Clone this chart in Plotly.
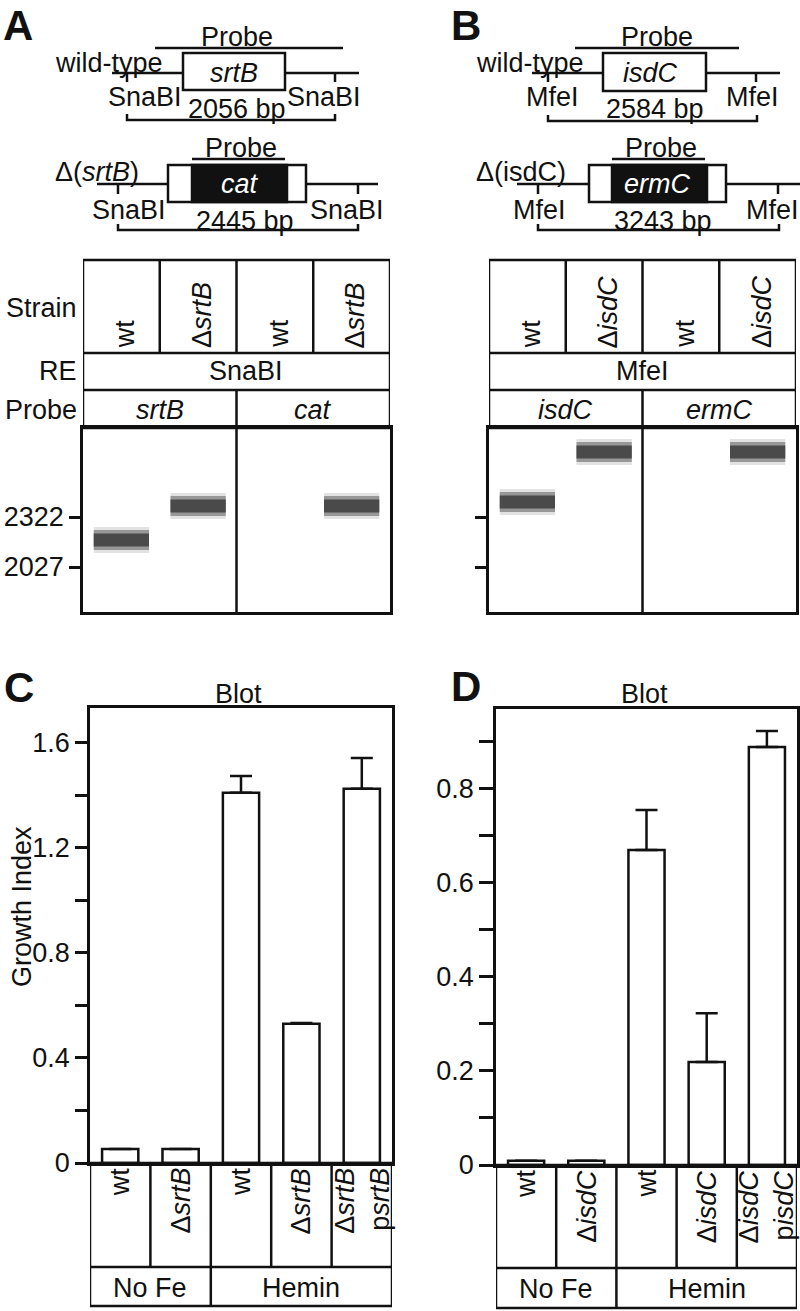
import plotly.graph_objects as go

W, H = 800, 1311
FONT = "Liberation Sans, Arial, sans-serif"
INK = "#111111"
LW = 2.5
FS = 27


def px(x):
    return x / W


def py(y):
    return 1 - y / H


# ---- Southern blots (band sizes in bp, read against the 2322 / 2027 markers) ----
marker_bp = [2027, 2322]
marker_labels = ["2027", "2322"]

blot_a_lanes = [0, 1, 3]
blot_a_bp = [2186, 2387, 2387]
blot_a_strains = ["wt", "Δ<i>srtB</i>", "wt", "Δ<i>srtB</i>"]
blot_a_enzyme = "SnaBI"
blot_a_probes = ["srtB", "cat"]

blot_b_lanes = [0, 1, 3]
blot_b_bp = [2410, 2706, 2706]
blot_b_strains = ["wt", "Δ<i>isdC</i>", "wt", "Δ<i>isdC</i>"]
blot_b_enzyme = "MfeI"
blot_b_probes = ["isdC", "ermC"]

# ---- growth index bars ----
strains_c = ["wt", "Δ<i>srtB</i>", "wt", "Δ<i>srtB</i>", "Δ<i>srtB</i><br>p<i>srtB</i>"]
growth_c = [0.053, 0.053, 1.410, 0.530, 1.425]
growth_err_c = [0, 0, 0.064, 0.003, 0.118]

strains_d = ["wt", "Δ<i>isdC</i>", "wt", "Δ<i>isdC</i>", "Δ<i>isdC</i><br>p<i>isdC</i>"]
growth_d = [0.009, 0.009, 0.670, 0.219, 0.889]
growth_err_d = [0, 0, 0.085, 0.104, 0.034]

conditions = ["No Fe", "Hemin"]
condition_counts = [2, 3]

fig = go.Figure()
shapes = []
notes = []


def line(x0, y0, x1, y1, xref="paper", yref="paper", w=LW):
    shapes.append(dict(type="line", x0=x0, y0=y0, x1=x1, y1=y1, xref=xref, yref=yref,
                       line=dict(color=INK, width=w)))


def pline(x0, y0, x1, y1):
    line(px(x0), py(y0), px(x1), py(y1))


def prect(x0, y0, x1, y1, fill="white"):
    shapes.append(dict(type="rect", xref="paper", yref="paper", x0=px(x0), x1=px(x1),
                       y0=py(y1), y1=py(y0), fillcolor=fill, line=dict(color=INK, width=LW)))


def text(x, y, s, size=FS, color=INK, xanchor="center", yanchor="middle", angle=0,
         xref="paper", yref="paper", align="center", bold=False):
    if bold:
        s = "<b>" + s + "</b>"
    notes.append(dict(x=x, y=y, xref=xref, yref=yref, text=s, showarrow=False,
                      xanchor=xanchor, yanchor=yanchor, textangle=angle, align=align,
                      font=dict(family=FONT, size=size, color=color)))


def ptext(x, y, s, **kw):
    text(px(x), py(y), s, **kw)


def bracket(x0, x1, y, top):
    shapes.append(dict(type="path", xref="paper", yref="paper",
                       path=f"M{px(x0)},{py(top)} L{px(x0)},{py(y)} L{px(x1)},{py(y)} L{px(x1)},{py(top)}",
                       line=dict(color=INK, width=LW)))


# ---- panel letters ----
for lab, x, y in [("A", 18, 0), ("B", 466, 0), ("C", 19, 662), ("D", 466, 661)]:
    ptext(x, y, lab, size=42, bold=True, yanchor="top")

# ---- A: gene maps ----
pline(112, 73, 359, 73)
prect(183, 53, 285, 90)
pline(127, 73, 127, 82)
pline(335, 73, 335, 82)
pline(155, 48, 343, 48)
bracket(127, 335, 120, 114)
ptext(237, 37, "Probe")
ptext(109, 63, "wild-type")
ptext(234, 73, "<i>srtB</i>")
ptext(145, 97, "SnaBI")
ptext(324, 97, "SnaBI")
ptext(237, 109, "2056 bp")

pline(97, 184, 378, 184)
prect(168, 165, 306, 202)
prect(192, 165, 287, 202, fill=INK)
pline(118, 184, 118, 194)
pline(358, 184, 358, 194)
pline(192, 159, 285, 159)
bracket(118, 358, 230, 224)
ptext(241, 148, "Probe")
ptext(97, 172, "Δ(<i>srtB</i>)")
ptext(240, 184, "<i>cat</i>", color="white")
ptext(129, 210, "SnaBI")
ptext(347, 210, "SnaBI")
ptext(245, 221, "2445 bp")

# ---- B: gene maps ----
pline(532, 73, 780, 73)
prect(603, 53, 706, 91)
pline(548, 73, 548, 82)
pline(756, 73, 756, 82)
pline(575, 48, 739, 48)
bracket(548, 757, 121, 115)
ptext(657, 37, "Probe")
ptext(530, 63, "wild-type")
ptext(650, 73, "<i>isdC</i>")
ptext(552, 97, "MfeI")
ptext(752, 97, "MfeI")
ptext(655, 109, "2584 bp")

pline(517, 184, 800, 184)
prect(589, 165, 726, 202)
prect(612, 165, 707, 202, fill=INK)
pline(538, 184, 538, 194)
pline(778, 184, 778, 194)
pline(612, 159, 705, 159)
bracket(538, 779, 230, 224)
ptext(661, 148, "Probe")
ptext(521, 172, "Δ(isdC)")
ptext(657, 184, "<i>ermC</i>", color="white")
ptext(539, 210, "MfeI")
ptext(772, 210, "MfeI")
ptext(663, 221, "3243 bp")


# ---- blots ----
def blot(xa, ya, lanes, sizes, strains, enzyme, probes, enzyme_pos):
    segs_x, segs_y = [], []
    for lane, bp in zip(lanes, sizes):
        segs_x += [lane - 0.36, lane + 0.36, None]
        segs_y += [bp, bp, None]
    for w, c in [(26, "rgba(60,60,60,0.15)"), (20, "rgba(60,60,60,0.45)"), (13, "#4a4a4a")]:
        fig.add_trace(go.Scatter(x=segs_x, y=segs_y, mode="lines", xaxis=xa, yaxis=ya,
                                 line=dict(color=c, width=w), hoverinfo="skip", showlegend=False))
    xr = xa
    # header table
    shapes.append(dict(type="rect", xref=xr, yref="paper", x0=-0.5, x1=3.5, y0=py(428), y1=py(260),
                       line=dict(color=INK, width=LW)))
    line(-0.5, py(353), 3.5, py(353), xref=xr)
    line(-0.5, py(390), 3.5, py(390), xref=xr)
    for b in [0.5, 1.5, 2.5]:
        line(b, py(260), b, py(353), xref=xr)
    line(1.5, py(390), 1.5, py(612), xref=xr)
    for i, s in enumerate(strains):
        text(i + 0.05, py(350), s, angle=-90, yanchor="bottom", xref=xr)
    text(enzyme_pos, py(371), enzyme, xref=xr)
    text(0.5, py(410), "<i>" + probes[0] + "</i>", xref=xr)
    text(2.5, py(410), "<i>" + probes[1] + "</i>", xref=xr)


blot("x", "y", blot_a_lanes, blot_a_bp, blot_a_strains, blot_a_enzyme, blot_a_probes, 1.62)
blot("x2", "y2", blot_b_lanes, blot_b_bp, blot_b_strains, blot_b_enzyme, blot_b_probes, 1.5)
ptext(79, 308, "Strain", xanchor="right")
ptext(79, 371, "RE", xanchor="right")
ptext(79, 410, "Probe", xanchor="right")


# ---- growth bars ----
def bars(xa, ya, vals, errs, strains, top, label_y, bottom):
    xs = list(range(len(vals)))
    fig.add_trace(go.Bar(x=xs, y=vals, xaxis=xa, yaxis=ya, width=0.6,
                         marker=dict(color="white", line=dict(color=INK, width=LW)),
                         error_y=dict(type="data", symmetric=False, array=errs,
                                      arrayminus=[0] * len(vals), color=INK,
                                      thickness=LW, width=11),
                         showlegend=False, hoverinfo="skip"))
    n = len(vals)
    shapes.append(dict(type="rect", xref=xa, yref="paper", x0=-0.5, x1=n - 0.5,
                       y0=py(bottom), y1=py(top), line=dict(color=INK, width=LW)))
    line(-0.5, py(label_y), n - 0.5, py(label_y), xref=xa)
    for b in range(n - 1):
        line(b + 0.5, py(top), b + 0.5, py(label_y), xref=xa)
    start = 0
    for cond, cnt in zip(conditions, condition_counts):
        if start > 0:
            line(start - 0.5, py(label_y), start - 0.5, py(bottom), xref=xa)
        text(start + (cnt - 1) / 2, py((label_y + bottom) / 2 + 1), cond, xref=xa)
        start += cnt
    for i, s in enumerate(strains):
        text(i, py(top + 3), s, angle=-90, yanchor="top", align="right", xref=xa)


bars("x3", "y3", growth_c, growth_err_c, strains_c, 1163, 1267, 1306)
bars("x4", "y4", growth_d, growth_err_d, strains_d, 1165, 1268, 1308)
ptext(238, 694, "Blot")
ptext(644, 694, "Blot")
ptext(22, 907, "Growth Index", angle=-90)

axis_common = dict(showline=True, mirror=True, linecolor=INK, linewidth=LW, showgrid=False,
                   zeroline=False, automargin=False, tickfont=dict(family=FONT, size=FS, color=INK))
blot_x = dict(axis_common, range=[-0.5, 3.5], showticklabels=False, ticks="")
blot_y = dict(axis_common, range=[1761.5, 2847.1], tickvals=marker_bp, ticktext=marker_labels,
              ticks="outside", ticklen=11, tickwidth=LW, tickcolor=INK)
bar_x = dict(axis_common, range=[-0.5, 4.5], showticklabels=False, ticks="")
bar_y = dict(axis_common, ticks="outside", ticklen=12, tickwidth=LW, tickcolor=INK)

fig.update_layout(
    template="none",
    width=W, height=H, margin=dict(l=0, r=0, t=0, b=0, pad=0), autosize=False,
    paper_bgcolor="white", plot_bgcolor="white", showlegend=False,
    xaxis=dict(blot_x, domain=[px(83), px(390)], anchor="y"),
    yaxis=dict(blot_y, domain=[py(612), py(428)], anchor="x"),
    xaxis2=dict(blot_x, domain=[px(489), px(796)], anchor="y2"),
    yaxis2=dict(blot_y, domain=[py(612), py(428)], anchor="x2", showticklabels=False),
    xaxis3=dict(bar_x, domain=[px(90), px(392)], anchor="y3"),
    yaxis3=dict(bar_y, domain=[py(1163), py(708)], anchor="x3", range=[0, 1.733],
                tick0=0, dtick=0.4,
                minor=dict(ticks="outside", ticklen=12, tickwidth=LW, tickcolor=INK, dtick=0.2, tick0=0)),
    xaxis4=dict(bar_x, domain=[px(496), px(797)], anchor="y4"),
    yaxis4=dict(bar_y, domain=[py(1165), py(709)], anchor="x4", range=[0, 0.970],
                tick0=0, dtick=0.2, ticklen=14,
                minor=dict(ticks="outside", ticklen=14, tickwidth=LW, tickcolor=INK, dtick=0.1, tick0=0)),
    shapes=shapes,
    annotations=notes,
)

fig.write_html(
    "out.html",
    config={"displayModeBar": False},
    post_script="document.body.style.margin='0';document.documentElement.style.overflow='hidden';",
)
